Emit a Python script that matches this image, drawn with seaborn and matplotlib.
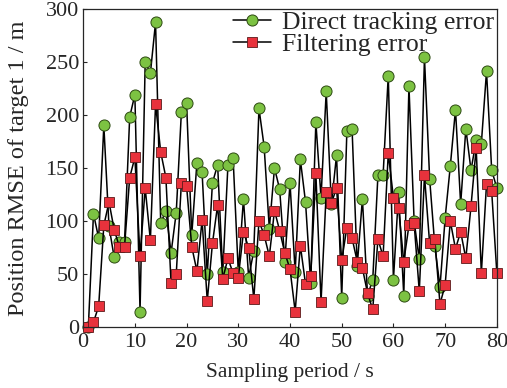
import matplotlib
matplotlib.use("Agg")
import matplotlib.pyplot as plt
import seaborn as sns
import pandas as pd
import numpy as np

# values (x = 1..80)
period = np.arange(1, 81)
direct_err = [0, 107, 84, 190, 95, 66, 80, 80, 198, 219,
              15, 250, 239, 287, 98, 110, 70, 108, 203, 211,
              87, 155, 146, 50, 136, 153, 52, 153, 159, 52,
              121, 47, 72, 206, 170, 93, 150, 130, 62, 136,
              52, 158, 118, 42, 193, 122, 222, 116, 162, 28,
              185, 187, 58, 121, 30, 45, 143, 143, 237, 45,
              127, 30, 227, 100, 64, 254, 140, 77, 38, 103,
              152, 205, 116, 187, 148, 176, 173, 241, 148, 131]
filter_err = [0, 5, 20, 96, 118, 92, 76, 76, 141, 160,
              67, 131, 82, 210, 165, 141, 42, 50, 136, 133,
              76, 53, 101, 25, 79, 115, 46, 65, 51, 47,
              90, 75, 27, 100, 87, 67, 110, 91, 70, 55,
              15, 77, 41, 48, 145, 24, 127, 117, 131, 63,
              94, 84, 62, 56, 32, 17, 83, 67, 164, 122,
              112, 62, 96, 98, 34, 143, 79, 83, 22, 40,
              100, 74, 90, 65, 114, 169, 51, 135, 128, 51]

df = pd.DataFrame({"period": period, "direct": direct_err, "filter": filter_err})

sns.set_style("ticks")
plt.rcParams["font.family"] = ["Liberation Serif", "DejaVu Serif"]

fig = plt.figure(figsize=(5.07, 3.88), dpi=100)
ax = fig.add_axes([0.164, 0.156, 0.816, 0.822])

sns.lineplot(data=df, x="period", y="direct", ax=ax, color="black", lw=1.1,
             marker="o", markersize=8, markerfacecolor="#7cc242",
             markeredgecolor="#2d4a12", markeredgewidth=0.7,
             label="Direct tracking error", clip_on=False)
sns.lineplot(data=df, x="period", y="filter", ax=ax, color="black", lw=1.1,
             marker="s", markersize=6.5, markerfacecolor="#e8323c",
             markeredgecolor="#5a1a1a", markeredgewidth=0.6,
             label="Filtering error", clip_on=False)

ax.set_xlim(0, 80)
ax.set_ylim(0, 300)
ax.set_xticks(range(0, 81, 10))
ax.set_yticks(range(0, 301, 50))
ax.tick_params(direction="in", labelsize=16, length=3, width=0.8)
ax.tick_params(axis="x", pad=4)
ax.tick_params(axis="y", pad=3)
ax.set_xlabel("Sampling period / s", fontsize=15.5, labelpad=8)
ax.set_ylabel("Position RMSE of target 1 / m", fontsize=17.5, labelpad=12)
for s in ax.spines.values():
    s.set_linewidth(0.9)

ax.legend(loc="upper right", frameon=False, fontsize=18.5, handlelength=1.45,
          borderaxespad=0.0, borderpad=0.1, handletextpad=0.45, labelspacing=-0.03)

fig.savefig("out.png", dpi=100)
plt.close(fig)
